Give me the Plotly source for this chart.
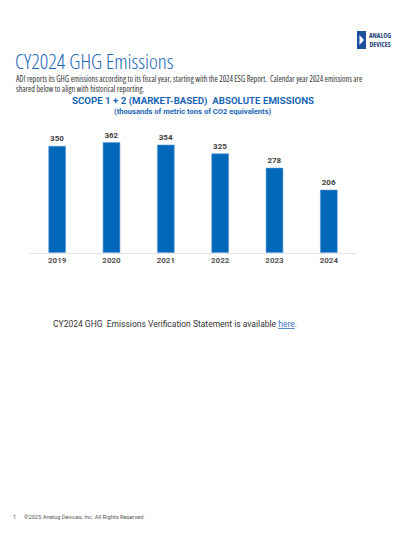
import plotly.graph_objects as go

# data
years = ["2019", "2020", "2021", "2022", "2023", "2024"]
emissions = [350, 362, 354, 325, 278, 206]

W, H = 400, 534
BLUE = "#0067b9"
TITLE_BLUE = "#1a66b5"
SANS = "Roboto, Noto Sans, sans-serif"
OPEN = "Open Sans"


# pixel -> paper helpers (margins are zero, so paper == whole page)
def px(x):
    return x / W


def py(y):
    return 1 - y / H


def cond(s, pct=75):
    return f"<span style='font-stretch:{pct}%'>{s}</span>"


fig = go.Figure()
fig.add_trace(go.Bar(
    x=years, y=emissions,
    marker=dict(color=BLUE, line=dict(color="#5b9bd5", width=0.6)),
    text=emissions, textposition="outside",
    textfont=dict(family=SANS, size=8, color="#404040", weight="bold"),
    cliponaxis=False,
    hoverinfo="skip",
))

fig.update_layout(
    width=W, height=H,
    margin=dict(l=0, r=0, t=0, b=0),
    paper_bgcolor="white", plot_bgcolor="white",
    showlegend=False,
    bargap=0.69,
    xaxis=dict(domain=[px(30), px(356)], showgrid=False, showline=True,
               linecolor="#e2e2e2", linewidth=1, ticks="",
               tickfont=dict(family=SANS, size=8, color="#555555", weight="bold"),
               fixedrange=True),
    yaxis=dict(domain=[py(252.7), py(131)], range=[0, 400], visible=False,
               fixedrange=True),
)

ann = []


def note(text, x, y, size, color="#333333", family=SANS, xanchor="left", weight="normal"):
    ann.append(dict(text=text, x=px(x), y=py(y), xref="paper", yref="paper",
                    xanchor=xanchor, yanchor="middle", showarrow=False,
                    font=dict(family=family, size=size, color=color, weight=weight)))


note(cond("CY2024 GHG Emissions"), 13, 61, 21, TITLE_BLUE, OPEN, weight=300)
note(cond("ADI reports its GHG emissions according to its fiscal year, starting with the 2024 ESG Report.  "
          "Calendar year 2024 emissions are"), 14, 78.3, 8, "#333333", OPEN)
note(cond("shared below to align with historical reporting."), 14, 89, 8, "#333333", OPEN)
note("SCOPE 1 + 2 (MARKET-BASED)  ABSOLUTE EMISSIONS", 192.5, 101, 9.7, TITLE_BLUE,
     SANS, "center", "bold")
note("(thousands of metric tons of CO2 equivalents)", 192.5, 111.7, 7.6, TITLE_BLUE,
     SANS, "center", "bold")
note("CY2024 GHG  Emissions Verification Statement is available "
     "<span style='color:#3a78c3'><u>here</u></span>.", 51, 324, 8.5, "#333333", SANS)
note("1", 11, 517, 5.6, "#555555", SANS)
note("\u00a92025 Analog Devices, Inc. All Rights Reserved.", 22, 517, 5.7, "#555555", SANS)
note(cond("ANALOG<br>DEVICES"), 366.5, 40, 6.8, "#1f3f7a", OPEN, weight="bold")

fig.update_layout(annotations=ann)

# logo mark
fig.add_shape(type="rect", xref="paper", yref="paper",
              x0=px(357), x1=px(366), y0=py(49), y1=py(31),
              fillcolor="#1c4f9c", line_width=0)
fig.add_shape(type="path", xref="paper", yref="paper",
              path=f"M {px(359.5)} {py(35)} L {px(364)} {py(40)} L {px(359.5)} {py(45)} Z",
              fillcolor="white", line_width=0)

fig.write_html("out.html", config={"displayModeBar": False},
               post_script="document.body.style.margin='0';")
